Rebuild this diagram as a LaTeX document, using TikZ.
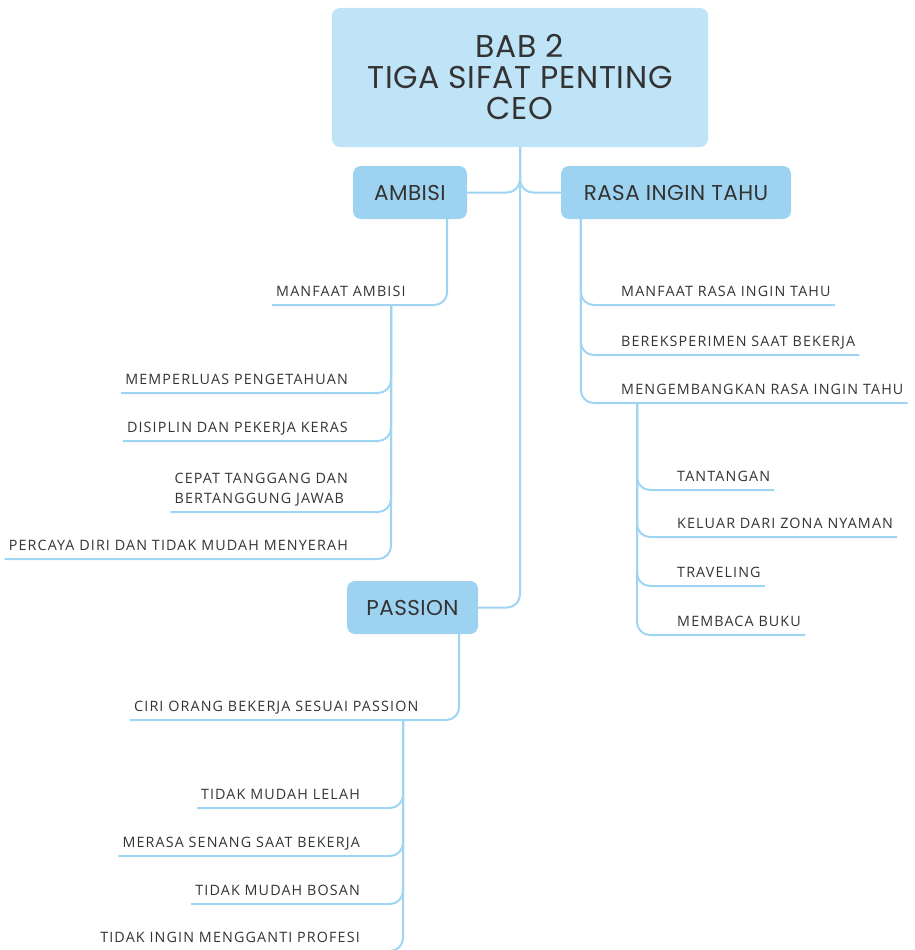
\documentclass[tikz,border=0pt]{standalone}
\usepackage{fontspec}
\setmainfont{Open Sans}
\newfontfamily\headfont[LetterSpace=2]{Poppins}
\newfontfamily\leaffont[LetterSpace=8]{Open Sans}
\definecolor{rootfill}{HTML}{C0E4F7}
\definecolor{topicfill}{HTML}{9DD3F1}
\definecolor{linkcol}{HTML}{9FD4F2}
\definecolor{ink}{HTML}{333333}
\tikzset{
  root/.style={rectangle, rounded corners=8pt, fill=rootfill, text=ink,
    minimum width=376pt, minimum height=139pt, inner sep=0pt, align=center,
    font=\headfont\fontsize{31.5}{31}\selectfont},
  topic/.style={rectangle, rounded corners=8pt, fill=topicfill, text=ink,
    minimum height=53pt, inner sep=0pt,
    font=\headfont\fontsize{21.5}{25}\selectfont},
  leaf/.style={inner xsep=4pt, inner ysep=8pt, text depth=0pt, text=ink,
    font=\leaffont\fontsize{14.3}{20}\selectfont},
  link/.style={draw=linkcol, line width=2pt, rounded corners=13pt},
}
\begin{document}
\begin{tikzpicture}[x=1pt,y=-1pt]
\useasboundingbox (0,0) rectangle (914,950);

% central topic and the three main branches
\node[root] (root) at (520,77.5) {\raisebox{2pt}{\parbox{366pt}{\centering BAB 2\\TIGA SIFAT PENTING\\CEO}}};
\node[topic, minimum width=114pt] (ambisi) at (410,192.5) {AMBISI};
\node[topic, minimum width=230pt] (rasa) at (676,192.5) {RASA INGIN TAHU};
\node[topic, minimum width=131pt] (passion) at (412.5,607.5) {PASSION};

\draw[link] (root.south) |- (ambisi.east);
\draw[link] (root.south) |- (rasa.west);
\draw[link] (root.south) |- (passion.east);

% AMBISI
\node[leaf, anchor=south west] (mamb) at (272,305) {MANFAAT AMBISI};
\draw[link] ([xshift=-20pt]ambisi.south east) |- (mamb.south west);
\coordinate (ta) at (391,305);
\node[leaf, anchor=south east] (a1) at (352,393) {MEMPERLUAS PENGETAHUAN};
\node[leaf, anchor=south east] (a2) at (352,441) {DISIPLIN DAN PEKERJA KERAS};
\node[leaf, anchor=south east, align=left] (a3) at (352,512) {CEPAT TANGGANG DAN\\BERTANGGUNG JAWAB};
\node[leaf, anchor=south east] (a4) at (352,559) {PERCAYA DIRI DAN TIDAK MUDAH MENYERAH};
\foreach \n in {a1,a2,a3,a4} \draw[link] (ta) |- (\n.south west);

% RASA INGIN TAHU
\coordinate (tr) at ([xshift=20pt]rasa.south west);
\node[leaf, anchor=south west] (r1) at (617,305) {MANFAAT RASA INGIN TAHU};
\node[leaf, anchor=south west] (r2) at (617,355) {BEREKSPERIMEN SAAT BEKERJA};
\node[leaf, anchor=south west] (r3) at (617,403) {MENGEMBANGKAN RASA INGIN TAHU};
\foreach \n in {r1,r2,r3} \draw[link] (tr) |- (\n.south east);
\coordinate (tk) at (637,403);
\node[leaf, anchor=south west] (k1) at (673,490) {TANTANGAN};
\node[leaf, anchor=south west] (k2) at (673,537) {KELUAR DARI ZONA NYAMAN};
\node[leaf, anchor=south west] (k3) at (673,586) {TRAVELING};
\node[leaf, anchor=south west] (k4) at (673,635) {MEMBACA BUKU};
\foreach \n in {k1,k2,k3,k4} \draw[link] (tk) |- (\n.south east);

% PASSION
\node[leaf, anchor=south west] (ciri) at (130,720) {CIRI ORANG BEKERJA SESUAI PASSION};
\draw[link] ([xshift=-19pt]passion.south east) |- (ciri.south west);
\coordinate (tp) at (403,720);
\node[leaf, anchor=south east] (p1) at (364,808) {TIDAK MUDAH LELAH};
\node[leaf, anchor=south east] (p2) at (364,856) {MERASA SENANG SAAT BEKERJA};
\node[leaf, anchor=south east] (p3) at (364,904) {TIDAK MUDAH BOSAN};
\node[leaf, anchor=south east] (p4) at (364,951) {TIDAK INGIN MENGGANTI PROFESI};
\foreach \n in {p1,p2,p3,p4} \draw[link] (tp) |- (\n.south west);
\end{tikzpicture}
\end{document}
